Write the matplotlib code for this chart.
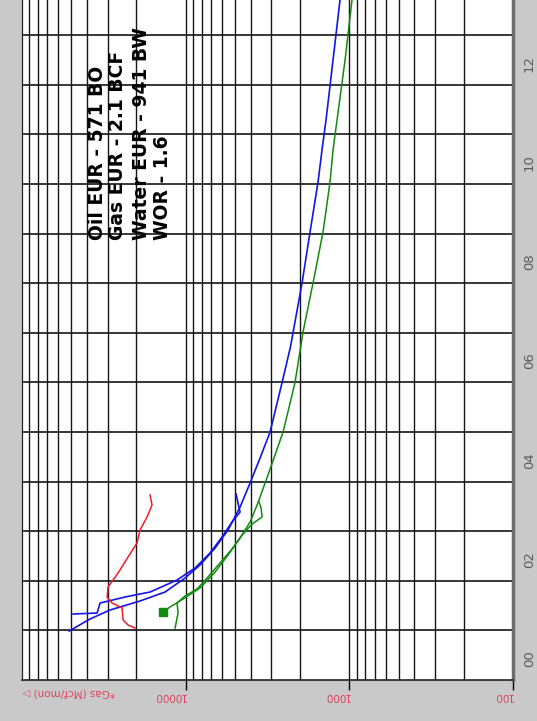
import matplotlib
matplotlib.use("Agg")
import matplotlib.pyplot as plt
from matplotlib.ticker import FixedLocator, FixedFormatter, LogLocator, NullFormatter

# Time in years from start of 2000, gas rate in Mcf/month
gas_fc_t = [0.988, 1.230, 1.411, 1.593, 1.774, 2.056, 2.319, 2.661, 3.024, 3.488,
            3.972, 4.476, 5.000, 5.988, 6.714, 8.004, 9.032, 10.040, 10.685, 11.290,
            12.500, 13.710]
gas_fc_q = [51500, 38400, 28970, 19000, 13360, 10090, 8170, 6610, 5510, 4650,
            4040, 3510, 3050, 2580, 2290, 1945, 1738, 1553, 1469, 1388,
            1258, 1140]

gas_hist_t = [1.331, 1.350, 1.552, 1.673, 1.774, 2.016, 2.258, 2.560, 2.883, 3.185,
              3.387, 3.569, 3.750]
gas_hist_q = [48750, 34760, 33340, 23460, 16500, 11290, 8760, 7100, 5990, 5210,
              4650, 4790, 4920]

green_fc_t = [1.371, 1.472, 1.633, 1.855, 2.177, 2.520, 2.863, 3.185, 3.528, 4.133,
              5.000, 5.988, 7.016, 8.004, 9.032, 10.040, 10.685, 11.290, 12.500, 13.710]
green_fc_q = [13740, 12450, 10370, 8170, 6610, 5510, 4650, 4040, 3660, 3140,
              2540, 2150, 1918, 1667, 1448, 1312, 1258, 1189, 1062, 963]

green_hist_t = [1.048, 1.351, 1.552, 1.694, 1.835, 2.077, 2.359, 2.641, 2.923, 3.145,
                3.286, 3.468, 3.589]
green_hist_q = [11610, 11130, 11290, 10090, 8520, 7300, 6170, 5210, 4520, 3930,
                3410, 3460, 3560]

red_t = [1.048, 1.109, 1.210, 1.452, 1.552, 1.673, 1.875, 2.157, 2.480, 2.762,
         3.024, 3.286, 3.528, 3.730]
red_q = [20380, 22490, 24120, 24460, 28170, 30210, 29790, 25880, 22490, 19820,
         19000, 17220, 16050, 16500]

start_marker = (13740, 1.371)

year_ticks = [0.5, 2.5, 4.5, 6.5, 8.5, 10.5, 12.5]
year_labels = ["00", "02", "04", "06", "08", "10", "12"]
rate_ticks = [100, 1000, 10000]
rate_labels = ["100", "1000", "10000"]

notes = ["Oil EUR - 571 BO", "Gas EUR - 2.1 BCF", "Water EUR - 941 BW", "WOR - 1.6"]

W, H = 537, 721
fig = plt.figure(figsize=(W / 100, H / 100), dpi=100, facecolor="#c9c9c9")
ax = fig.add_axes([22 / W, 1 - 680 / H, (513 - 22) / W, 680 / H])
ax.set_facecolor("white")

ax.set_xscale("log")
ax.set_xlim(100000, 100)
ax.set_ylim(0, 13.71)

# rate axis (horizontal, log)
ax.xaxis.set_major_locator(FixedLocator(rate_ticks))
ax.xaxis.set_major_formatter(FixedFormatter(rate_labels))
ax.xaxis.set_minor_locator(LogLocator(base=10, subs=range(2, 10)))
ax.xaxis.set_minor_formatter(NullFormatter())
ax.tick_params(axis="x", which="major", direction="out", length=7, width=1,
               color="black", labelsize=7.5, labelcolor="#e0405a",
               labelrotation=180, pad=1)
ax.tick_params(axis="x", which="minor", length=0)
for lab in ax.get_xticklabels():
    lab.set_ha("right")

# time axis (vertical)
ax.yaxis.set_major_locator(FixedLocator(range(1, 14)))
ax.yaxis.set_major_formatter(NullFormatter())
ax.yaxis.set_minor_locator(FixedLocator(year_ticks))
ax.yaxis.set_minor_formatter(FixedFormatter(year_labels))
ax.tick_params(axis="y", which="both", left=False, right=False, length=0,
               labelleft=False, labelright=True)
ax.tick_params(axis="y", which="minor", labelsize=9.5, labelcolor="#5a5a5a",
               labelrotation=90, pad=7)

ax.set_axisbelow(True)
ax.grid(True, axis="y", which="major", color="#151515", lw=1.2)
ax.grid(True, axis="x", which="both", color="#151515", lw=1.0)

ax.spines["top"].set_visible(False)
ax.spines["left"].set_color("#222222")
ax.spines["left"].set_linewidth(0.9)
ax.spines["bottom"].set_color("#222222")
ax.spines["bottom"].set_linewidth(1.2)
ax.spines["right"].set_color("#6e6e6e")
ax.spines["right"].set_linewidth(2.5)

blue = "#1414e6"
green = "#128a12"
red = "#f01c28"
ax.plot(gas_fc_q, gas_fc_t, color=blue, lw=1.2, zorder=3)
ax.plot(gas_hist_q, gas_hist_t, color=blue, lw=1.2, zorder=3)
ax.plot(green_fc_q, green_fc_t, color=green, lw=1.1, zorder=3)
ax.plot(green_hist_q, green_hist_t, color=green, lw=1.1, zorder=3)
ax.plot(red_q, red_t, color=red, lw=1.1, zorder=3)
ax.plot([start_marker[0]], [start_marker[1]], marker="s", ms=6, color=green,
        zorder=4, linestyle="none")

# summary notes
note_x = [0.153, 0.1955, 0.244, 0.287]
for x, s in zip(note_x, notes):
    ax.text(x, 0.647, s, transform=ax.transAxes, rotation=90,
            rotation_mode="anchor", ha="left", va="center",
            fontsize=13.5, fontweight="bold", color="black", zorder=5)

fig.text(22 / W, 1 - 688 / H, "*Gas (Mcf/mon) \u25b7", rotation=180,
         ha="left", va="top", fontsize=7.5, color="#e0405a")

fig.savefig("out.png", dpi=100, facecolor=fig.get_facecolor())
